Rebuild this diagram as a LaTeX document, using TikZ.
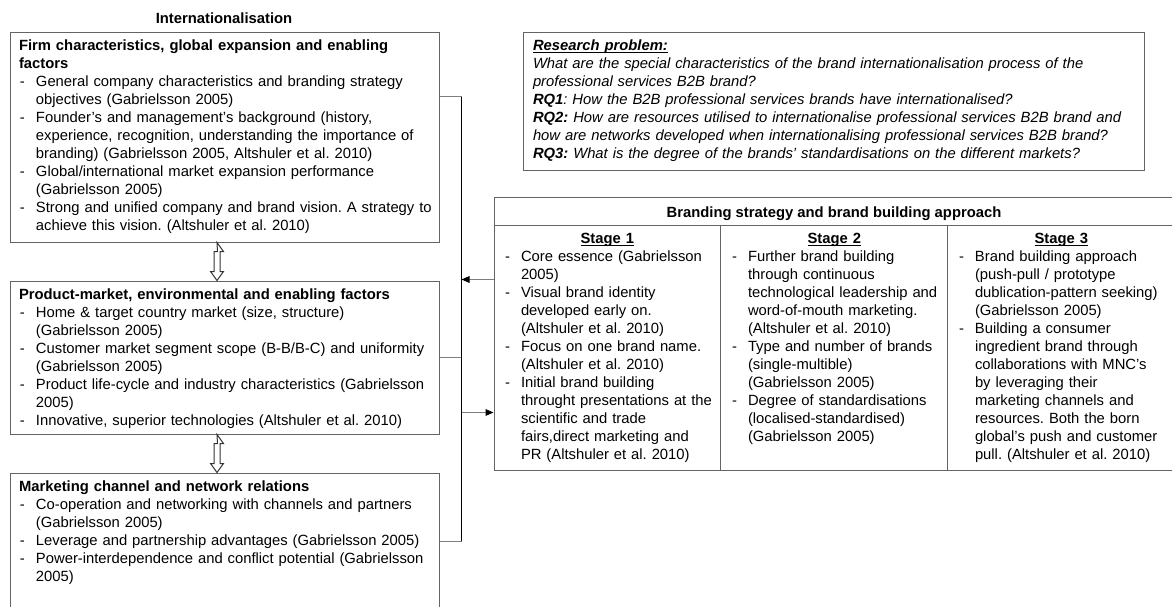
\documentclass[tikz,border=0pt]{standalone}
\usepackage{fontspec}
\setmainfont{Liberation Sans}
\usetikzlibrary{arrows.meta,calc,fit}
\setlength{\parindent}{0pt}
\frenchspacing
\definecolor{boxgray}{RGB}{100,100,100}
\definecolor{linegray}{RGB}{125,125,125}
\newcommand{\itm}{\par\hangindent=12.75pt\hangafter=1\noindent\makebox[12.75pt][l]{\hspace{0.75pt}-}}
\newcommand{\ulin}[1]{\setbox0\hbox{#1}\rlap{\rule[-1.7pt]{\wd0}{0.75pt}}\box0}
\newcommand{\stagehd}[1]{\makebox[155pt][c]{\ulin{\textbf{#1}}}}

\tikzset{every picture/.style={line width=0.75pt}}
\tikzset{
  box/.style={draw=boxgray, inner sep=0pt},
  txt/.style={anchor=north west, inner sep=0pt, align=left, font=\fontsize{11.1}{13.5}\selectfont},
  hd/.style={inner sep=0pt, font=\fontsize{11.1}{13.5}\selectfont\bfseries},
  stub/.style={draw=linegray},
  bus/.style={draw=black, line width=1.1pt},
  arr/.style={draw=linegray, -{Triangle[length=6pt,width=5pt,color=black]}},
  dblarr/.style={draw=black!80, fill=white, line width=0.75pt}
}

\begin{document}
\begin{tikzpicture}[x=0.75pt,y=0.75pt,yscale=-1,xscale=1]
\useasboundingbox (0,0) rectangle (1172,607);
\clip (0,0) rectangle (1172,607);

% Text Node
\node (intl) [hd, anchor=base] at (224,23) {Internationalisation};

%Shape: Rectangle
\node (firm) [box, fit={(10,32) (439,242)}] {};
%Shape: Rectangle
\node (prod) [box, fit={(10,281) (439,434)}] {};
%Shape: Rectangle
\node (mkt) [box, fit={(10,473) (439,609)}] {};

% Text Node
\node (firmtxt) [txt, text width=312pt] at ($(firm.north west)+(9,8)$) {%
\textbf{Firm characteristics, global expansion and enabling}\newline\textbf{factors}
\itm General company characteristics and branding strategy\newline objectives (Gabrielsson 2005)
\itm Founder’s and management’s background (history,\newline experience, recognition, understanding the importance of\newline branding) (Gabrielsson 2005, Altshuler et al. 2010)
\itm Global/international market expansion performance\newline (Gabrielsson 2005)
\itm Strong and unified company and brand vision. A strategy to\newline achieve this vision. (Altshuler et al. 2010)\par};
% Text Node
\node (prodtxt) [txt, text width=312pt] at ($(prod.north west)+(9,8)$) {%
\textbf{Product-market, environmental and enabling factors}
\itm Home \& target country market (size, structure)\newline (Gabrielsson 2005)
\itm Customer market segment scope (B-B/B-C) and uniformity\newline (Gabrielsson 2005)
\itm Product life-cycle and industry characteristics (Gabrielsson\newline 2005)
\itm Innovative, superior technologies (Altshuler et al. 2010)\par};
% Text Node
\node (mkttxt) [txt, text width=312pt] at ($(mkt.north west)+(9,8)$) {%
\textbf{Marketing channel and network relations}
\itm Co-operation and networking with channels and partners\newline (Gabrielsson 2005)
\itm Leverage and partnership advantages (Gabrielsson 2005)
\itm Power-interdependence and conflict potential (Gabrielsson\newline 2005)\par};

%Double arrows between the boxes
\draw [dblarr] ($(firm.south)+(-7.5,0)$) -- ++(6.5,9) -- ++(-3.5,0) -- ++(0,20) -- ++(3.5,0) -- ++(-6.5,9) -- ++(-6.5,-9) -- ++(3.5,0) -- ++(0,-20) -- ++(3.5,0) -- cycle ;
\draw [dblarr] ($(prod.south)+(-7.5,0)$) -- ++(6.5,9) -- ++(-3.5,0) -- ++(0,20) -- ++(3.5,0) -- ++(-6.5,9) -- ++(-6.5,-9) -- ++(3.5,0) -- ++(0,-20) -- ++(3.5,0) -- cycle ;

%Shape: Rectangle
\node (rp) [box, fit={(523,32) (1144,170)}] {};
% Text Node
\node (rptxt) [txt, text width=460pt, font=\fontsize{11.1}{13.5}\selectfont\itshape] at ($(rp.north west)+(10,8)$) {%
\ulin{\textbf{Research problem:}}\newline
What are the special characteristics of the brand internationalisation process of the\newline professional services B2B brand?\newline
\textbf{RQ1}: How the B2B professional services brands have internationalised?\newline
\textbf{RQ2:} How are resources utilised to internationalise professional services B2B brand and\newline how are networks developed when internationalising professional services B2B brand?\newline
\textbf{RQ3:} What is the degree of the brands’ standardisations on the different markets?\par};

%Shape: Table
\node (tblhd) [box, fit={(494,197) (1174,225)}] {};
\node (tbl) [box, fit={(494,225) (1174,470)}] {};
\draw [boxgray] ($(tbl.north west)!1/3!(tbl.north east)$) -- ($(tbl.south west)!1/3!(tbl.south east)$) ;
\draw [boxgray] ($(tbl.north west)!2/3!(tbl.north east)$) -- ($(tbl.south west)!2/3!(tbl.south east)$) ;
% Text Node
\node (brand) [hd, anchor=base] at (834,217) {Branding strategy and brand building approach};

% Text Node
\node (st1) [txt, text width=162pt] at ($(tbl.north west)+(10,8)$) {%
\stagehd{Stage 1}
\itm Core essence (Gabrielsson\newline 2005)
\itm Visual brand identity\newline developed early on.\newline (Altshuler et al. 2010)
\itm Focus on one brand name.\newline (Altshuler et al. 2010)
\itm Initial brand building\newline throught presentations at the\newline scientific and trade\newline fairs,direct marketing and\newline PR (Altshuler et al. 2010)\par};
% Text Node
\node (st2) [txt, text width=162pt] at ($(tbl.north west)!1/3!(tbl.north east)+(10,8)$) {%
\stagehd{Stage 2}
\itm Further brand building\newline through continuous\newline technological leadership and\newline word-of-mouth marketing.\newline (Altshuler et al. 2010)
\itm Type and number of brands\newline (single-multible)\newline (Gabrielsson 2005)
\itm Degree of standardisations\newline (localised-standardised)\newline (Gabrielsson 2005)\par};
% Text Node
\node (st3) [txt, text width=162pt] at ($(tbl.north west)!2/3!(tbl.north east)+(10,8)$) {%
\stagehd{Stage 3}
\itm Brand building approach\newline (push-pull / prototype\newline dublication-pattern seeking)\newline (Gabrielsson 2005)
\itm Building a consumer\newline ingredient brand through\newline collaborations with MNC’s\newline by leveraging their\newline marketing channels and\newline resources. Both the born\newline global’s push and customer\newline pull. (Altshuler et al. 2010)\par};

%Straight Lines
\coordinate (bustop) at ($(firm.north east)+(22,65)$);
\coordinate (busbot) at (mkt.east -| bustop);
\draw [stub] (firm.north east |- bustop) -- (bustop) ;
\draw [stub] (prod.east) -- (prod.east -| bustop) ;
\draw [stub] (mkt.east) -- (busbot) ;
\draw [bus] (bustop) -- (busbot) ;
%Arrows
\coordinate (a1) at ($(tbl.north west)+(0,55)$);
\coordinate (a2) at ($(tbl.north west)+(0,188)$);
\draw [arr] (a1) -- (a1 -| bustop) ;
\draw [arr] (a2 -| bustop) -- (a2) ;
\end{tikzpicture}
\end{document}
